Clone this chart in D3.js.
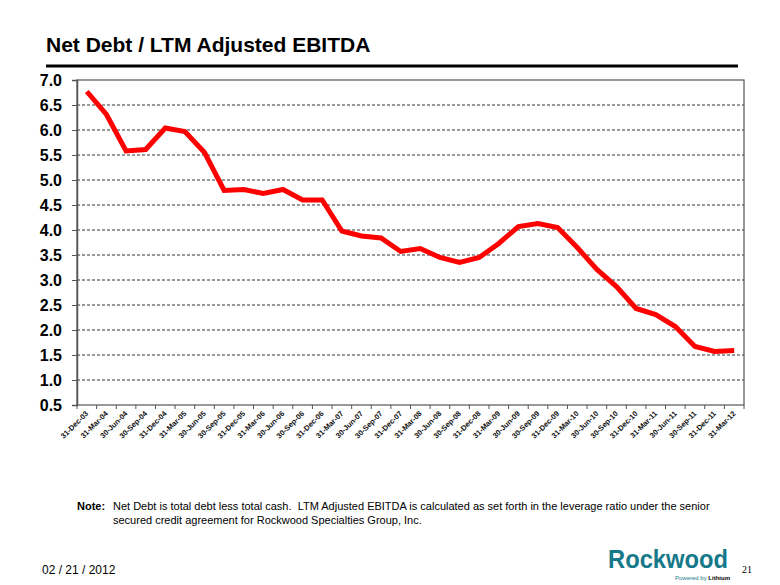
<!DOCTYPE html>
<html>
<head>
<meta charset="utf-8">
<script src="https://cdn.jsdelivr.net/npm/d3@7"></script>
<style>
  body { margin: 0; background: #fff; }
  svg { font-family: Arial, "Liberation Sans", sans-serif; }
</style>
</head>
<body>
<div id="chart"></div>
<script>
// Data
const quarters = [
  '31-Dec-03', '31-Mar-04', '30-Jun-04', '30-Sep-04', '31-Dec-04', '31-Mar-05',
  '30-Jun-05', '30-Sep-05', '31-Dec-05', '31-Mar-06', '30-Jun-06', '30-Sep-06',
  '31-Dec-06', '31-Mar-07', '30-Jun-07', '30-Sep-07', '31-Dec-07', '31-Mar-08',
  '30-Jun-08', '30-Sep-08', '31-Dec-08', '31-Mar-09', '30-Jun-09', '30-Sep-09',
  '31-Dec-09', '31-Mar-10', '30-Jun-10', '30-Sep-10', '31-Dec-10', '31-Mar-11',
  '30-Jun-11', '30-Sep-11', '31-Dec-11', '31-Mar-12'
];
const leverage = [
  6.77, 6.31, 5.58, 5.61, 6.04, 5.97, 5.55, 4.79, 4.81, 4.73, 4.81, 4.60,
  4.60, 3.98, 3.88, 3.84, 3.57, 3.63, 3.45, 3.35, 3.45, 3.73, 4.07, 4.13,
  4.05, 3.65, 3.21, 2.87, 2.43, 2.31, 2.07, 1.67, 1.57, 1.59
];
const yTicks = [0.5, 1.0, 1.5, 2.0, 2.5, 3.0, 3.5, 4.0, 4.5, 5.0, 5.5, 6.0, 6.5, 7.0];

// Dimensions
const width = 780, height = 585;
const plot = { left: 77, right: 744, top: 80, bottom: 405 };

const svg = d3.select('#chart')
  .append('svg')
  .attr('width', width)
  .attr('height', height);

// Title
svg.append('text')
  .attr('x', 46).attr('y', 52)
  .style('font-size', '21px').style('font-weight', 'bold')
  .text('Net Debt / LTM Adjusted EBITDA');

svg.append('line')
  .attr('x1', 46).attr('x2', 738)
  .attr('y1', 66).attr('y2', 66)
  .attr('stroke', '#000').attr('stroke-width', 3);

// Scales
const x = d3.scaleBand()
  .domain(quarters)
  .range([plot.left, plot.right]);

const y = d3.scaleLinear()
  .domain([0.5, 7.0])
  .range([plot.bottom, plot.top]);

// Gridlines (dashed)
svg.append('g')
  .selectAll('line')
  .data(yTicks.filter(t => t > 0.5 && t < 7.0))
  .join('line')
  .attr('x1', plot.left).attr('x2', plot.right)
  .attr('y1', d => y(d)).attr('y2', d => y(d))
  .attr('stroke', '#333')
  .attr('stroke-width', 1)
  .attr('stroke-dasharray', '3,2');

// Plot border
svg.append('rect')
  .attr('x', plot.left).attr('y', plot.top)
  .attr('width', plot.right - plot.left)
  .attr('height', plot.bottom - plot.top)
  .attr('fill', 'none')
  .attr('stroke', '#555')
  .attr('stroke-width', 1.2);

// Y axis
const yAxis = svg.append('g')
  .attr('transform', `translate(${plot.left},0)`)
  .call(d3.axisLeft(y).tickValues(yTicks).tickFormat(d3.format('.1f')).tickSize(5).tickPadding(10));
yAxis.select('.domain').attr('stroke', '#555').attr('stroke-width', 1.5);
yAxis.selectAll('.tick line').attr('stroke', '#555');
yAxis.selectAll('text')
  .style('font-size', '16px').style('font-weight', 'bold')
  .style('font-family', 'Arial, "Liberation Sans", sans-serif')
  .attr('fill', '#000');

// X axis ticks at category boundaries
const xAxisG = svg.append('g');
xAxisG.selectAll('line')
  .data(quarters.concat(['end']))
  .join('line')
  .attr('x1', (d, i) => plot.left + i * x.step())
  .attr('x2', (d, i) => plot.left + i * x.step())
  .attr('y1', plot.bottom).attr('y2', plot.bottom + 4)
  .attr('stroke', '#555');

xAxisG.selectAll('text')
  .data(quarters)
  .join('text')
  .attr('transform', d => `translate(${x(d) + x.bandwidth() / 2 + 2},${plot.bottom + 9}) rotate(-45)`)
  .attr('text-anchor', 'end')
  .style('font-size', '7.5px').style('font-weight', 'bold')
  .attr('fill', '#111')
  .text(d => d);

// Line
const line = d3.line()
  .x((d, i) => x(quarters[i]) + x.bandwidth() / 2)
  .y(d => y(d));

svg.append('path')
  .datum(leverage)
  .attr('d', line)
  .attr('fill', 'none')
  .attr('stroke', '#ff0000')
  .attr('stroke-width', 5)
  .attr('stroke-linejoin', 'miter');

// Note
svg.append('text')
  .attr('x', 77).attr('y', 510)
  .style('font-size', '11px').style('font-weight', 'bold')
  .text('Note:');
const noteLines = [
  'Net Debt is total debt less total cash.  LTM Adjusted EBITDA is calculated as set forth in the leverage ratio under the senior',
  'secured credit agreement for Rockwood Specialties Group, Inc.'
];
svg.append('g').selectAll('text')
  .data(noteLines)
  .join('text')
  .attr('x', 113).attr('y', (d, i) => 510 + i * 14)
  .attr('xml:space', 'preserve')
  .style('white-space', 'pre')
  .style('font-size', '11px')
  .text(d => d);

// Footer
svg.append('text')
  .attr('x', 42).attr('y', 574)
  .style('font-size', '12px')
  .text('02 / 21 / 2012');

svg.append('text')
  .attr('x', 742).attr('y', 573)
  .style('font-size', '10px')
  .style('font-family', '"Liberation Serif", "DejaVu Serif", serif')
  .text('21');

// Logo (text)
svg.append('text')
  .attr('x', 608).attr('y', 568)
  .attr('textLength', 120).attr('lengthAdjust', 'spacingAndGlyphs')
  .style('font-size', '25px').style('font-weight', 'bold')
  .attr('fill', '#16798a')
  .text('Rockwood');
svg.append('text')
  .attr('x', 730).attr('y', 580)
  .attr('text-anchor', 'end')
  .style('font-size', '6px')
  .attr('fill', '#16798a')
  .text('Powered by ')
  .append('tspan')
  .style('font-weight', 'bold')
  .attr('fill', '#000')
  .text('Lithium');
</script>
</body>
</html>
